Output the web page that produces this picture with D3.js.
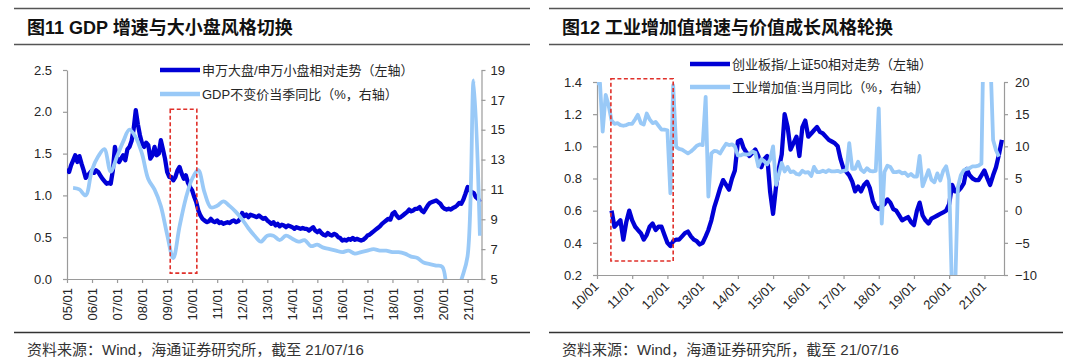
<!DOCTYPE html>
<html><head><meta charset="utf-8">
<script src="https://cdn.jsdelivr.net/npm/d3@7"></script>
<style>
html,body{margin:0;padding:0;background:#fff;}
svg{display:block;}
</style></head>
<body><svg id="c" width="1080" height="363"></svg>
<script>
// ---------------- DATA ----------------
// Chart 11
const leftTitle = "图11 GDP 增速与大小盘风格切换";
const leftSeriesName1 = "申万大盘/申万小盘相对走势（左轴）";
const leftSeriesName2 = "GDP不变价当季同比（%，右轴）";
const leftRatioStart = [2005, 0]; // first month (year, month index)
const leftRatio = [
 1.32,1.28,1.36,1.42,1.48,1.40,1.47,1.38,1.30,1.21,1.24,1.27,
 1.30,1.27,1.30,1.28,1.24,1.20,1.17,1.14,1.15,1.14,1.30,1.58,
 1.45,1.40,1.44,1.48,1.42,1.55,1.58,1.65,1.80,2.02,1.85,1.72,
 1.62,1.58,1.63,1.60,1.44,1.48,1.58,1.48,1.50,1.66,1.55,1.44,
 1.28,1.22,1.22,1.18,1.22,1.30,1.34,1.26,1.20,1.24,1.15,1.10,
 1.06,0.98,0.92,0.82,0.76,0.72,0.70,0.68,0.69,0.72,0.69,0.68,
 0.70,0.67,0.68,0.66,0.67,0.68,0.67,0.69,0.70,0.68,0.69,0.72,
 0.79,0.75,0.77,0.74,0.77,0.76,0.75,0.74,0.76,0.74,0.72,0.73,
 0.70,0.68,0.66,0.68,0.64,0.66,0.63,0.65,0.64,0.62,0.64,0.63,
 0.62,0.60,0.62,0.61,0.60,0.61,0.60,0.60,0.58,0.60,0.62,0.58,
 0.56,0.58,0.55,0.53,0.52,0.55,0.53,0.52,0.54,0.53,0.50,0.49,
 0.46,0.47,0.46,0.48,0.47,0.49,0.47,0.48,0.47,0.46,0.47,0.49,
 0.52,0.53,0.55,0.57,0.59,0.61,0.63,0.66,0.68,0.70,0.72,0.71,
 0.78,0.80,0.76,0.73,0.74,0.76,0.78,0.80,0.83,0.81,0.82,0.84,
 0.84,0.86,0.82,0.80,0.84,0.88,0.91,0.92,0.93,0.94,0.92,0.90,
 0.86,0.84,0.83,0.84,0.83,0.85,0.86,0.88,0.91,0.90,0.95,1.02,
 1.10,1.06,1.04,1.03,0.98,0.96,0.92
];
const gdpStart = [2005, 1]; // first quarter (year, quarter)
const gdpYoY = [
 11.1,11.0,10.6,12.3,
 13.2,13.7,12.2,13.2,
 14.2,15.0,14.5,13.4,
 11.7,11.0,9.9,8.0,
 6.4,8.5,10.4,11.7,
 12.3,10.8,9.8,9.9,
 10.2,9.9,9.5,9.0,
 8.4,7.9,7.5,7.9,
 7.9,7.6,7.9,7.7,
 7.5,7.6,7.2,7.3,
 7.1,7.0,6.9,6.8,
 6.9,6.7,6.8,6.9,
 7.0,6.9,6.9,6.8,
 6.8,6.7,6.5,6.4,
 6.1,6.0,5.9,5.8,
 -6.8,3.2,4.9,6.5,
 18.3,7.9
];
const leftXTickLabels = ["05/01","06/01","07/01","08/01","09/01","10/01","11/01","12/01","13/01","14/01","15/01","16/01","17/01","18/01","19/01","20/01","21/01"];
const leftYTicks = [0,0.5,1.0,1.5,2.0,2.5];
const leftY2Ticks = [5,7,9,11,13,15,17,19];
const leftBox = {from:[2009,1,15], to:[2010,2,10], lo:0.07, hi:2.03};

// Chart 12
const rightTitle = "图12 工业增加值增速与价值成长风格轮换";
const rightSeriesName1 = "创业板指/上证50相对走势（左轴）";
const rightSeriesName2 = "工业增加值:当月同比（%，右轴）";
const rightRatioStart = [2010, 5];
const rightRatio = [
 0.60,0.50,0.52,0.54,0.42,0.53,0.60,
 0.54,0.50,0.48,0.46,0.42,0.45,0.50,0.52,0.48,0.50,0.50,0.45,
 0.40,0.38,0.41,0.42,0.42,0.44,0.46,0.47,0.44,0.42,0.41,0.39,
 0.40,0.44,0.48,0.54,0.62,0.68,0.74,0.79,0.76,0.73,0.80,0.85,
 1.03,1.04,0.99,0.96,0.94,0.96,0.98,0.94,0.87,0.92,0.94,0.72,
 0.58,0.75,0.86,0.95,1.20,1.12,0.98,1.02,1.06,0.94,1.12,1.16,
 1.06,1.08,1.10,1.12,1.09,1.08,1.06,1.04,1.03,1.02,1.00,0.92,
 0.86,0.84,0.82,0.78,0.72,0.75,0.72,0.76,0.78,0.74,0.66,0.62,
 0.61,0.63,0.64,0.67,0.65,0.61,0.60,0.57,0.54,0.55,0.56,0.53,
 0.51,0.60,0.65,0.57,0.54,0.52,0.55,0.56,0.57,0.58,0.59,0.60,
 0.64,0.76,0.72,0.72,0.74,0.77,0.86,0.82,0.80,0.79,0.79,0.82,
 0.85,0.80,0.76,0.82,0.87,0.95,1.04
];
const ipStart = [2010, 0];
const ipYoY = [
 19.8,19.8,12.3,18.0,16.4,14.0,13.5,13.6,13.3,13.2,13.3,13.5,
 13.5,14.2,14.9,13.6,13.4,15.1,14.2,13.6,13.8,13.2,12.6,12.6,
 12.5,2.7,19.5,9.9,9.6,9.5,9.2,8.9,9.2,9.6,10.1,10.3,
 10.2,17.7,2.2,8.9,9.3,9.2,8.9,9.7,10.4,10.2,10.3,10.0,
 8.6,8.6,8.8,8.7,8.8,9.2,9.0,6.9,8.0,7.7,7.2,7.9,
 10.0,4.0,5.6,7.4,6.1,6.8,6.0,6.1,5.7,5.6,6.2,5.9,
 6.0,5.4,6.8,6.0,6.0,6.2,6.0,6.3,6.1,6.1,6.2,6.0,
 6.2,6.3,10.5,6.5,6.5,7.6,6.4,6.0,6.6,6.2,6.1,6.2,
 15.9,-2.0,6.0,7.0,6.8,6.0,6.0,6.1,5.8,5.9,5.4,5.7,
 5.3,5.3,8.5,3.8,5.0,6.3,4.8,4.4,5.8,4.7,6.2,6.9,
 4.8,-13.5,-13.5,3.7,5.5,6.3,6.5,6.6,6.9,6.9,7.0,7.3,
 35.1,35.1,25.0,11.0,9.4,8.4
];
const rightXTickLabels = ["10/01","11/01","12/01","13/01","14/01","15/01","16/01","17/01","18/01","19/01","20/01","21/01"];
const rightYTicks = [0.2,0.4,0.6,0.8,1.0,1.2,1.4];
const rightY2Ticks = [-10,-5,0,5,10,15,20];
const rightBox = {from:[2010,4,25], to:[2012,2,1], lo:0.287, hi:1.42};

const sourceText = "资料来源：Wind，海通证券研究所，截至 21/07/16";

// ---------------- DRAW ----------------
const FONT = "'Liberation Sans', Arial, 'Noto Sans CJK SC', sans-serif";
const DARK = "#0000d6", LIGHT = "#99c9f7", AXIS = "#9a9a9a", TXT = "#262626", RED = "#e0302a";
const svg = d3.select("#c");
svg.append("rect").attr("width",1080).attr("height",363).attr("fill","#fff");

const monthly = (start, vals) => vals.map((v,i)=>({d:new Date(start[0], start[1]+i, 1), v}));
const quarterly = (start, vals) => vals.map((v,i)=>({d:new Date(start[0], (start[1]-1+i)*3+3, 0), v}));

function frame(x0, x1, title) {
  const g = svg.append("g");
  g.append("line").attr("x1",x0).attr("x2",x1).attr("y1",8.5).attr("y2",8.5).attr("stroke","#555").attr("stroke-width",1.6);
  g.append("line").attr("x1",x0).attr("x2",x1).attr("y1",44.5).attr("y2",44.5).attr("stroke","#555").attr("stroke-width",1.6);
  g.append("line").attr("x1",x0).attr("x2",x1).attr("y1",332.5).attr("y2",332.5).attr("stroke","#333").attr("stroke-width",1.6);
  g.append("text").attr("x",x0+13).attr("y",33.5).attr("font-family",FONT).attr("font-weight","bold")
    .attr("font-size",18).attr("fill","#111").text(title);
  g.append("text").attr("x",x0+13).attr("y",355).attr("font-family",FONT)
    .attr("font-size",15).attr("fill","#333").text(sourceText);
}
frame(14, 530, leftTitle);
frame(549, 1063, rightTitle);

function styleAxis(sel) {
  sel.select(".domain").attr("stroke",AXIS).attr("stroke-width",1.2);
  sel.selectAll(".tick line").attr("stroke",AXIS).attr("stroke-width",1.2);
  sel.selectAll(".tick text").attr("fill",TXT).attr("font-family",FONT).attr("font-size",13);
}

function legend(x, y1, y2, n1, n2) {
  const g = svg.append("g");
  g.append("line").attr("x1",x).attr("x2",x+40).attr("y1",y1).attr("y2",y1).attr("stroke",DARK).attr("stroke-width",4.5);
  g.append("line").attr("x1",x).attr("x2",x+40).attr("y1",y2).attr("y2",y2).attr("stroke",LIGHT).attr("stroke-width",4.5);
  g.append("text").attr("x",x+42).attr("y",y1).attr("dy","0.35em").attr("font-family",FONT).attr("font-size",13).attr("fill",TXT).text(n1);
  g.append("text").attr("x",x+42).attr("y",y2).attr("dy","0.35em").attr("font-family",FONT).attr("font-size",13).attr("fill",TXT).text(n2);
}

function chart(o) {
  const x = d3.scaleTime().domain(o.xDomain).range([o.L, o.R]);
  const y = d3.scaleLinear().domain(o.yDomain).range([o.B, o.T]);
  const y2 = d3.scaleLinear().domain(o.y2Domain).range([o.B, o.T]);
  const g = svg.append("g");
  const clipId = "clip" + o.id;
  svg.append("defs").append("clipPath").attr("id",clipId).append("rect")
    .attr("x",o.L).attr("y",o.T).attr("width",o.R-o.L).attr("height",o.B-o.T);

  // axes
  const yearTicks = o.xLabels.map((s,i)=>new Date(o.firstYear+i,0,1));
  const ax = g.append("g").attr("transform",`translate(0,${o.B})`)
    .call(d3.axisBottom(x).tickValues(yearTicks).tickSize(4).tickSizeOuter(0).tickFormat((d,i)=>o.xLabels[i]));
  styleAxis(ax);
  if (o.rot === -90) {
    ax.selectAll(".tick text").attr("transform","rotate(-90)").attr("x",-9).attr("y",0).attr("dy","0.35em").style("text-anchor","end");
  } else {
    ax.selectAll(".tick text").attr("transform","translate(-1,9) rotate(-45)").attr("x",0).attr("y",0).attr("dy","0.35em").style("text-anchor","end");
  }
  const ay = g.append("g").attr("transform",`translate(${o.L},0)`)
    .call(d3.axisLeft(y).tickValues(o.yTicks).tickSize(4).tickSizeOuter(0).tickPadding(o.padL).tickFormat(d3.format(".1f")));
  styleAxis(ay);
  const ay2 = g.append("g").attr("transform",`translate(${o.R},0)`)
    .call(d3.axisRight(y2).tickValues(o.y2Ticks).tickSize(4).tickSizeOuter(0).tickPadding(o.padR).tickFormat(d3.format("d")));
  styleAxis(ay2);

  // series
  const plot = g.append("g").attr("clip-path",`url(#${clipId})`);
  plot.append("path").datum(o.s1).attr("fill","none").attr("stroke",DARK).attr("stroke-width",4.3)
    .attr("stroke-linejoin","round")
    .attr("d", d3.line().x(d=>x(d.d)).y(d=>y(d.v)));
  plot.append("path").datum(o.s2).attr("fill","none").attr("stroke",LIGHT).attr("stroke-width",3.8)
    .attr("stroke-linejoin","round")
    .attr("d", d3.line().curve(o.curve2).x(d=>x(d.d)).y(d=>y2(d.v)));

  // dashed box
  const b = o.box;
  const bx0 = x(new Date(...b.from)), bx1 = x(new Date(...b.to));
  g.append("rect").attr("x",bx0).attr("y",y(b.hi)).attr("width",bx1-bx0).attr("height",y(b.lo)-y(b.hi))
    .attr("fill","none").attr("stroke",RED).attr("stroke-width",1.6).attr("stroke-dasharray","4,2.5");
}

chart({
  id:"L", L:67, R:481.5, T:70, B:279,
  xDomain:[new Date(2005,0,1), new Date(2021,6,23)],
  yDomain:[0,2.5], y2Domain:[5,19],
  yTicks:leftYTicks, y2Ticks:leftY2Ticks, padL:11, padR:5,
  xLabels:leftXTickLabels, firstYear:2005, rot:-90,
  s1:monthly(leftRatioStart,leftRatio), s2:quarterly(gdpStart,gdpYoY),
  curve2:d3.curveCatmullRom.alpha(0.5), box:leftBox
});
chart({
  id:"R", L:597, R:1004, T:82, B:275,
  xDomain:[new Date(2010,0,1), new Date(2021,6,23)],
  yDomain:[0.2,1.4], y2Domain:[-10,20],
  yTicks:rightYTicks, y2Ticks:rightY2Ticks, padL:11, padR:7,
  xLabels:rightXTickLabels, firstYear:2010, rot:-45,
  s1:monthly(rightRatioStart,rightRatio), s2:monthly(ipStart,ipYoY),
  curve2:d3.curveLinear, box:rightBox
});

legend(160, 70, 94, leftSeriesName1, leftSeriesName2);
legend(690, 64, 87, rightSeriesName1, rightSeriesName2);
</script>
</body></html>
